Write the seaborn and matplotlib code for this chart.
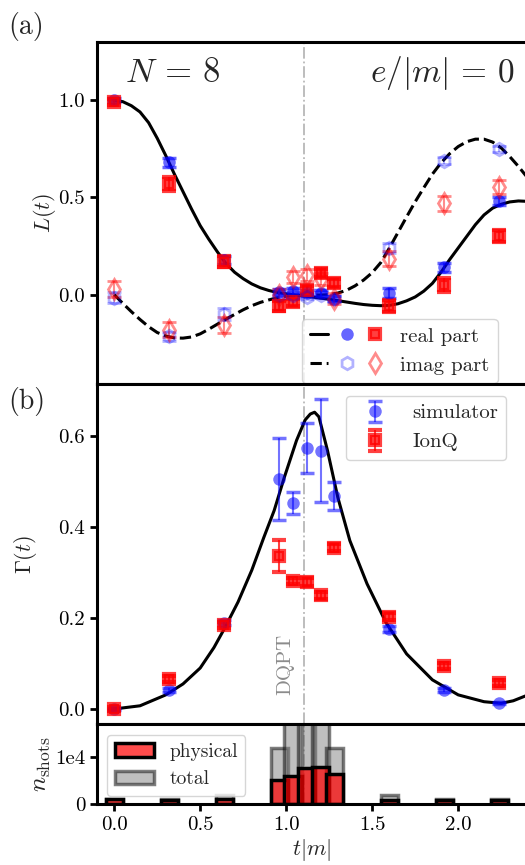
import matplotlib
matplotlib.use("Agg")
import matplotlib.pyplot as plt
from matplotlib.lines import Line2D
from matplotlib.patches import Patch
from matplotlib.legend_handler import HandlerTuple
import seaborn as sns

# measured times
t_data = [0.0, 0.32, 0.64, 0.96, 1.04, 1.12, 1.20, 1.28, 1.60, 1.92, 2.24]
t_dqpt = 1.105

# (a) Loschmidt amplitude, exact curves
t_curve = [0.00, 0.05, 0.10, 0.15, 0.20, 0.25, 0.30, 0.35, 0.40, 0.45,
           0.50, 0.55, 0.60, 0.65, 0.70, 0.75, 0.80, 0.85, 0.90, 0.95,
           1.00, 1.05, 1.10, 1.15, 1.20, 1.25, 1.30, 1.35, 1.40, 1.45,
           1.50, 1.55, 1.60, 1.65, 1.70, 1.75, 1.80, 1.85, 1.90, 1.95,
           2.00, 2.05, 2.10, 2.15, 2.20, 2.25, 2.30, 2.35, 2.40]
re_curve = [1.000, 0.993, 0.972, 0.940, 0.885, 0.805, 0.715, 0.620, 0.530, 0.440,
            0.355, 0.285, 0.220, 0.160, 0.115, 0.082, 0.055, 0.035, 0.021, 0.011,
            0.004, -0.002, -0.007, -0.012, -0.018, -0.024, -0.031, -0.038, -0.045, -0.051,
            -0.055, -0.057, -0.055, -0.047, -0.032, -0.012, 0.018, 0.058, 0.115, 0.180,
            0.240, 0.300, 0.360, 0.410, 0.445, 0.465, 0.477, 0.482, 0.480]
im_curve = [0.000, -0.045, -0.088, -0.128, -0.165, -0.195, -0.213, -0.223, -0.224, -0.218,
            -0.202, -0.178, -0.152, -0.126, -0.102, -0.078, -0.057, -0.040, -0.027, -0.016,
            -0.008, -0.004, -0.002, -0.002, -0.002, 0.000, 0.008, 0.022, 0.045, 0.075,
            0.113, 0.165, 0.240, 0.320, 0.400, 0.478, 0.550, 0.620, 0.678, 0.725,
            0.762, 0.787, 0.800, 0.800, 0.785, 0.755, 0.710, 0.660, 0.605]

re_sim = [1.00, 0.68, 0.18, 0.015, 0.02, 0.01, 0.01, -0.02, 0.01, 0.14, 0.48]
re_sim_err = [0.01, 0.025, 0.02, 0.015, 0.015, 0.015, 0.015, 0.015, 0.025, 0.025, 0.02]
re_ionq = [0.99, 0.57, 0.17, -0.06, -0.04, 0.025, 0.11, 0.06, -0.06, 0.05, 0.30]
re_ionq_err = [0.015, 0.035, 0.03, 0.025, 0.02, 0.02, 0.02, 0.02, 0.03, 0.035, 0.03]
im_sim = [-0.015, -0.215, -0.10, 0.0, 0.0, -0.01, 0.0, -0.02, 0.24, 0.69, 0.75]
im_sim_err = [0.03, 0.025, 0.03, 0.015, 0.015, 0.015, 0.015, 0.015, 0.025, 0.02, 0.015]
im_ionq = [0.03, -0.18, -0.155, 0.0, 0.09, 0.10, 0.08, -0.02, 0.185, 0.47, 0.555]
im_ionq_err = [0.04, 0.04, 0.04, 0.03, 0.03, 0.03, 0.03, 0.03, 0.04, 0.04, 0.035]

# (b) rate function
t_rate = [0.00, 0.15, 0.30, 0.40, 0.50, 0.58, 0.64, 0.72, 0.80, 0.87,
          0.93, 0.99, 1.06, 1.11, 1.14, 1.165, 1.19, 1.24, 1.30, 1.37,
          1.47, 1.58, 1.70, 1.85, 2.00, 2.15, 2.25, 2.32, 2.40]
rate_curve = [0.000, 0.007, 0.031, 0.055, 0.090, 0.135, 0.176, 0.235, 0.305, 0.377,
              0.436, 0.510, 0.590, 0.635, 0.648, 0.652, 0.642, 0.568, 0.465, 0.370,
              0.275, 0.190, 0.121, 0.064, 0.031, 0.016, 0.0125, 0.018, 0.030]
rate_sim = [0.0, 0.042, 0.19, 0.505, 0.453, 0.573, 0.567, 0.468, 0.176, 0.042, 0.013]
rate_sim_err = [0.003, 0.004, 0.005, 0.09, 0.024, 0.055, 0.113, 0.03, 0.007, 0.004, 0.003]
rate_ionq = [0.0, 0.066, 0.185, 0.336, 0.281, 0.279, 0.25, 0.354, 0.203, 0.095, 0.057]
rate_ionq_err = [0.004, 0.006, 0.006, 0.035, 0.006, 0.008, 0.008, 0.008, 0.007, 0.007, 0.006]

# shots
shots_total = [1000, 1000, 2000, 12000, 20000, 20000, 20000, 12000, 2000, 1000, 1000]
shots_physical = [1000, 900, 1000, 5000, 6000, 7700, 7900, 6400, 800, 900, 900]

sns.set_style("ticks")
plt.rcParams['font.family'] = ['cmr10', 'DejaVu Serif']
plt.rcParams['mathtext.fontset'] = 'cm'
plt.rcParams['axes.formatter.use_mathtext'] = True
plt.rcParams['axes.linewidth'] = 2.2
plt.rcParams['axes.edgecolor'] = 'black'

fig = plt.figure(figsize=(5.25, 8.65), dpi=100)
W, H = 525, 865
left, width = 97 / W, 430 / W
ax1 = fig.add_axes([left, (H - 384) / H, width, 342 / H])
ax2 = fig.add_axes([left, (H - 724) / H, width, 340 / H])
ax3 = fig.add_axes([left, (H - 804) / H, width, 80 / H])

for ax in (ax1, ax2, ax3):
    ax.set_xlim(-0.1, 2.4)
    ax.tick_params(direction='out', length=5, width=2, labelsize=15, colors='black')
    ax.axvline(t_dqpt, color='0.72', ls='-.', lw=1.3, zorder=0)
for ax in (ax1, ax2):
    ax.tick_params(axis='x', bottom=False, labelbottom=False)

blue_pt = dict(fmt='o', color='blue', ms=9, mec='none', mew=2.5, capsize=5, elinewidth=1.5)
red_pt = dict(fmt='s', color='red', alpha=0.75, ms=7, mew=3, capsize=5, elinewidth=1.5)

# ---- (a)
sns.lineplot(x=t_curve, y=re_curve, color='black', lw=2.2, errorbar=None, ax=ax1)
sns.lineplot(x=t_curve, y=im_curve, color='black', lw=2.2, ls='--', errorbar=None, ax=ax1)
ax1.errorbar(t_data, re_sim, yerr=re_sim_err, alpha=0.6, **blue_pt)
ax1.errorbar(t_data, re_ionq, yerr=re_ionq_err, **red_pt)
ax1.errorbar(t_data, im_sim, yerr=im_sim_err, fmt='h', mfc='none', color='blue', alpha=0.3, ms=9,
             mew=2, capsize=5, elinewidth=1.5)
ax1.errorbar(t_data, im_ionq, yerr=im_ionq_err, fmt='d', mfc='none', color='red', alpha=0.45, ms=10,
             mew=2, capsize=5, elinewidth=1.5)
ax1.set_ylim(-0.46, 1.3)
ax1.set_yticks([0.0, 0.5, 1.0])
ax1.set_yticklabels(['0.0', '0.5', '1.0'])
ax1.set_ylabel(r'$L(t)$', fontsize=16)
ax1.yaxis.set_label_coords(-0.09, 0.5)
ax1.text(0.065, 0.909, r'$N\,=\,8$', transform=ax1.transAxes, fontsize=25, va='center', ha='left')
ax1.text(0.972, 0.909, r'$e/|m|\,=\,0$', transform=ax1.transAxes, fontsize=24, va='center', ha='right')

h_re = (Line2D([], [], color='black', lw=2.2),
        Line2D([], [], ls='', marker='o', color='blue', alpha=0.6, ms=9, mew=0),
        Line2D([], [], ls='', marker='s', color='red', alpha=0.75, ms=7, mew=3))
h_im = (Line2D([], [], color='black', lw=2.2, ls='--'),
        Line2D([], [], ls='', marker='h', mfc='none', color='blue', alpha=0.3, ms=9, mew=2),
        Line2D([], [], ls='', marker='d', mfc='none', color='red', alpha=0.45, ms=10, mew=2))
ax1.legend([h_re, h_im], ['real part', 'imag part'], handler_map={tuple: HandlerTuple(ndivide=None, pad=0.5)},
           handlelength=3.5, fontsize=15, loc='lower left', bbox_to_anchor=(0.477, 0.003), borderaxespad=0)

# ---- (b)
sns.lineplot(x=t_rate, y=rate_curve, color='black', lw=2.2, errorbar=None, ax=ax2)
ax2.errorbar(t_data, rate_sim, yerr=rate_sim_err, alpha=0.55, label='simulator', **blue_pt)
ax2.errorbar(t_data, rate_ionq, yerr=rate_ionq_err, label='IonQ', **red_pt)
ax2.set_ylim(-0.033, 0.714)
ax2.set_yticks([0.0, 0.2, 0.4, 0.6])
ax2.set_yticklabels(['0.0', '0.2', '0.4', '0.6'])
ax2.set_ylabel(r'$\Gamma(t)$', fontsize=16)
ax2.yaxis.set_label_coords(-0.135, 0.5)
ax2.text(0.995, 0.097, 'DQPT', rotation=90, color='0.55', fontsize=15, ha='center', va='center')
ax2.legend(fontsize=15, loc='upper left', bbox_to_anchor=(0.578, 0.966), borderaxespad=0)

# ---- shots
ax3.bar(t_data, shots_total, width=0.1, color='grey', edgecolor='black', lw=2.5, alpha=0.5)
ax3.bar(t_data, shots_physical, width=0.1, facecolor=(1, 0, 0, 0.7), edgecolor='black', lw=2.5)
ax3.set_ylim(0, 17000)
ax3.set_yticks([0, 10000])
ax3.set_yticklabels(['0', '1e4'])
ax3.set_xticks([0.0, 0.5, 1.0, 1.5, 2.0])
ax3.set_xticklabels(['0.0', '0.5', '1.0', '1.5', '2.0'])
ax3.set_ylabel(r'$n_{\mathrm{shots}}$', fontsize=18)
ax3.yaxis.set_label_coords(-0.102, 0.5)
ax3.set_xlabel(r'$t|m|$', fontsize=16, labelpad=2)
ax3.legend([Patch(facecolor=(1, 0, 0, 0.7), edgecolor='black', lw=2.5),
            Patch(facecolor='grey', edgecolor='black', lw=2.5, alpha=0.5)],
           ['physical', 'total'], fontsize=14, loc='upper left', bbox_to_anchor=(0.023, 0.8625),
           borderaxespad=0)

fig.text(0.015, 0.969, '(a)', fontsize=20, va='center', ha='left')
fig.text(0.015, 0.536, '(b)', fontsize=20, va='center', ha='left')

fig.savefig('out.png', dpi=100)
